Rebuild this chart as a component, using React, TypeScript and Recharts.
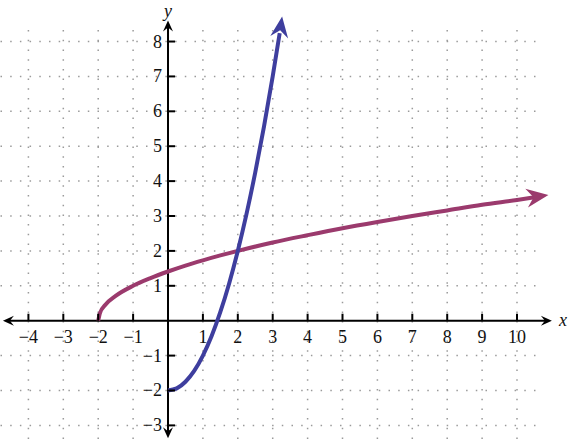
import React from 'react';
import { LineChart, Line, XAxis, YAxis, ReferenceLine, ReferenceDot } from 'recharts';

const xTicks = [-4, -3, -2, -1, 1, 2, 3, 4, 5, 6, 7, 8, 9, 10];
const yTicks = [-3, -2, -1, 1, 2, 3, 4, 5, 6, 7, 8];
const gridX = [-4, -3, -2, -1, 1, 2, 3, 4, 5, 6, 7, 8, 9, 10];
const gridY = [-3, -2, -1, 1, 2, 3, 4, 5, 6, 7, 8];

const rootX = [-2, -1.95, -1.8, -1.5, -1, -0.5, 0, 0.5, 1, 1.5, 2, 3, 4, 5, 6, 7, 8, 9, 10, 10.6];
const rootY = [0, 0.22, 0.45, 0.71, 1.0, 1.22, 1.41, 1.58, 1.73, 1.87, 2.0, 2.24, 2.45, 2.65, 2.83, 3.0, 3.16, 3.32, 3.46, 3.55];

const squareX = [0, 0.25, 0.5, 0.75, 1, 1.25, 1.5, 1.75, 2, 2.25, 2.5, 2.75, 3, 3.2];
const squareY = [-2, -1.94, -1.75, -1.44, -1, -0.44, 0.25, 1.06, 2, 3.06, 4.25, 5.56, 7, 8.24];

const rootData = rootX.map((x, i) => ({ x, y: rootY[i] }));
const squareData = squareX.map((x, i) => ({ x, y: squareY[i] }));

const BLUE = '#3e3e9e';
const PURPLE = '#9b3a6d';
const SERIF = 'Liberation Serif';

const fmt = (t: number) => (t < 0 ? '\u2212' + Math.abs(t) : String(t));

const arrowHead = (len: number, half: number, notch: number, angle: number, color: string) =>
  (props: any) => {
    const { cx, cy } = props;
    const d = `M${cx},${cy} L${cx - len},${cy - half} L${cx - notch},${cy} L${cx - len},${cy + half} Z`;
    return <path d={d} fill={color} stroke="none" transform={`rotate(${angle} ${cx} ${cy})`} />;
  };

const xTickShape = (label: string) => (props: any) => {
  const { cx, cy } = props;
  return (
    <g>
      <line x1={cx} y1={cy - 7} x2={cx} y2={cy} stroke="#000" strokeWidth={2} />
      <text x={cx} y={cy + 22} textAnchor="middle" fontFamily={SERIF} fontSize={18} fill="#111">{label}</text>
    </g>
  );
};

const yTickShape = (label: string) => (props: any) => {
  const { cx, cy } = props;
  return (
    <g>
      <line x1={cx} y1={cy} x2={cx + 7} y2={cy} stroke="#000" strokeWidth={2} />
      <text x={cx - 6} y={cy + 6} textAnchor="end" fontFamily={SERIF} fontSize={18} fill="#111">{label}</text>
    </g>
  );
};

const axisName = (label: string) => (props: any) => {
  const { cx, cy } = props;
  return (
    <text x={cx} y={cy + 5} textAnchor="middle" fontFamily={SERIF} fontSize={18} fontStyle="italic" fill="#111">{label}</text>
  );
};

export default function App() {
  return (
    <div style={{ position: 'absolute', left: 0, top: 0 }}>
      <LineChart width={569} height={439} margin={{ top: 0, right: 0, bottom: 0, left: 0 }}>
        <XAxis type="number" dataKey="x" domain={[-4.814, 11.49]} allowDataOverflow hide />
        <YAxis type="number" dataKey="y" domain={[-3.39, 9.19]} allowDataOverflow hide />

        {gridX.map((g) => (
          <ReferenceLine key={'gx' + g} segment={[{ x: g, y: -3.39 }, { x: g, y: 8.39 }]}
            stroke="#9a9a9a" strokeWidth={1.5} strokeDasharray="1.5 8.2" />
        ))}
        {gridY.map((g) => (
          <ReferenceLine key={'gy' + g} segment={[{ x: -4.8, y: g }, { x: 10.75, y: g }]}
            stroke="#9a9a9a" strokeWidth={1.5} strokeDasharray="1.5 8.2" />
        ))}

        <ReferenceLine segment={[{ x: -4.6, y: 0 }, { x: 10.9, y: 0 }]} stroke="#000" strokeWidth={2} />
        <ReferenceLine segment={[{ x: 0, y: -3.25 }, { x: 0, y: 8.5 }]} stroke="#000" strokeWidth={2} />
        <ReferenceDot x={-4.73} y={0} shape={arrowHead(11, 5, 7, 180, '#000')} />
        <ReferenceDot x={11.0} y={0} shape={arrowHead(11, 5, 7, 0, '#000')} />
        <ReferenceDot x={0} y={8.6} shape={arrowHead(11, 5, 7, -90, '#000')} />
        <ReferenceDot x={0} y={-3.37} shape={arrowHead(11, 5, 7, 90, '#000')} />

        {xTicks.map((t) => (
          <ReferenceDot key={'xt' + t} x={t} y={0} shape={xTickShape(fmt(t))} />
        ))}
        {yTicks.map((t) => (
          <ReferenceDot key={'yt' + t} x={0} y={t} shape={yTickShape(fmt(t))} />
        ))}
        <ReferenceDot x={11.32} y={0} shape={axisName('x')} />
        <ReferenceDot x={0} y={8.86} shape={axisName('y')} />

        <Line data={rootData} dataKey="y" type="monotone" stroke={PURPLE} strokeWidth={4} dot={false} activeDot={false} isAnimationActive={false} />
        <Line data={squareData} dataKey="y" type="monotone" stroke={BLUE} strokeWidth={4} dot={false} activeDot={false} isAnimationActive={false} />
        <ReferenceDot x={10.9} y={3.6} shape={arrowHead(22, 9.5, 15, -8, PURPLE)} />
        <ReferenceDot x={3.27} y={8.72} shape={arrowHead(21, 9, 14, -82, BLUE)} />
      </LineChart>
    </div>
  );
}
